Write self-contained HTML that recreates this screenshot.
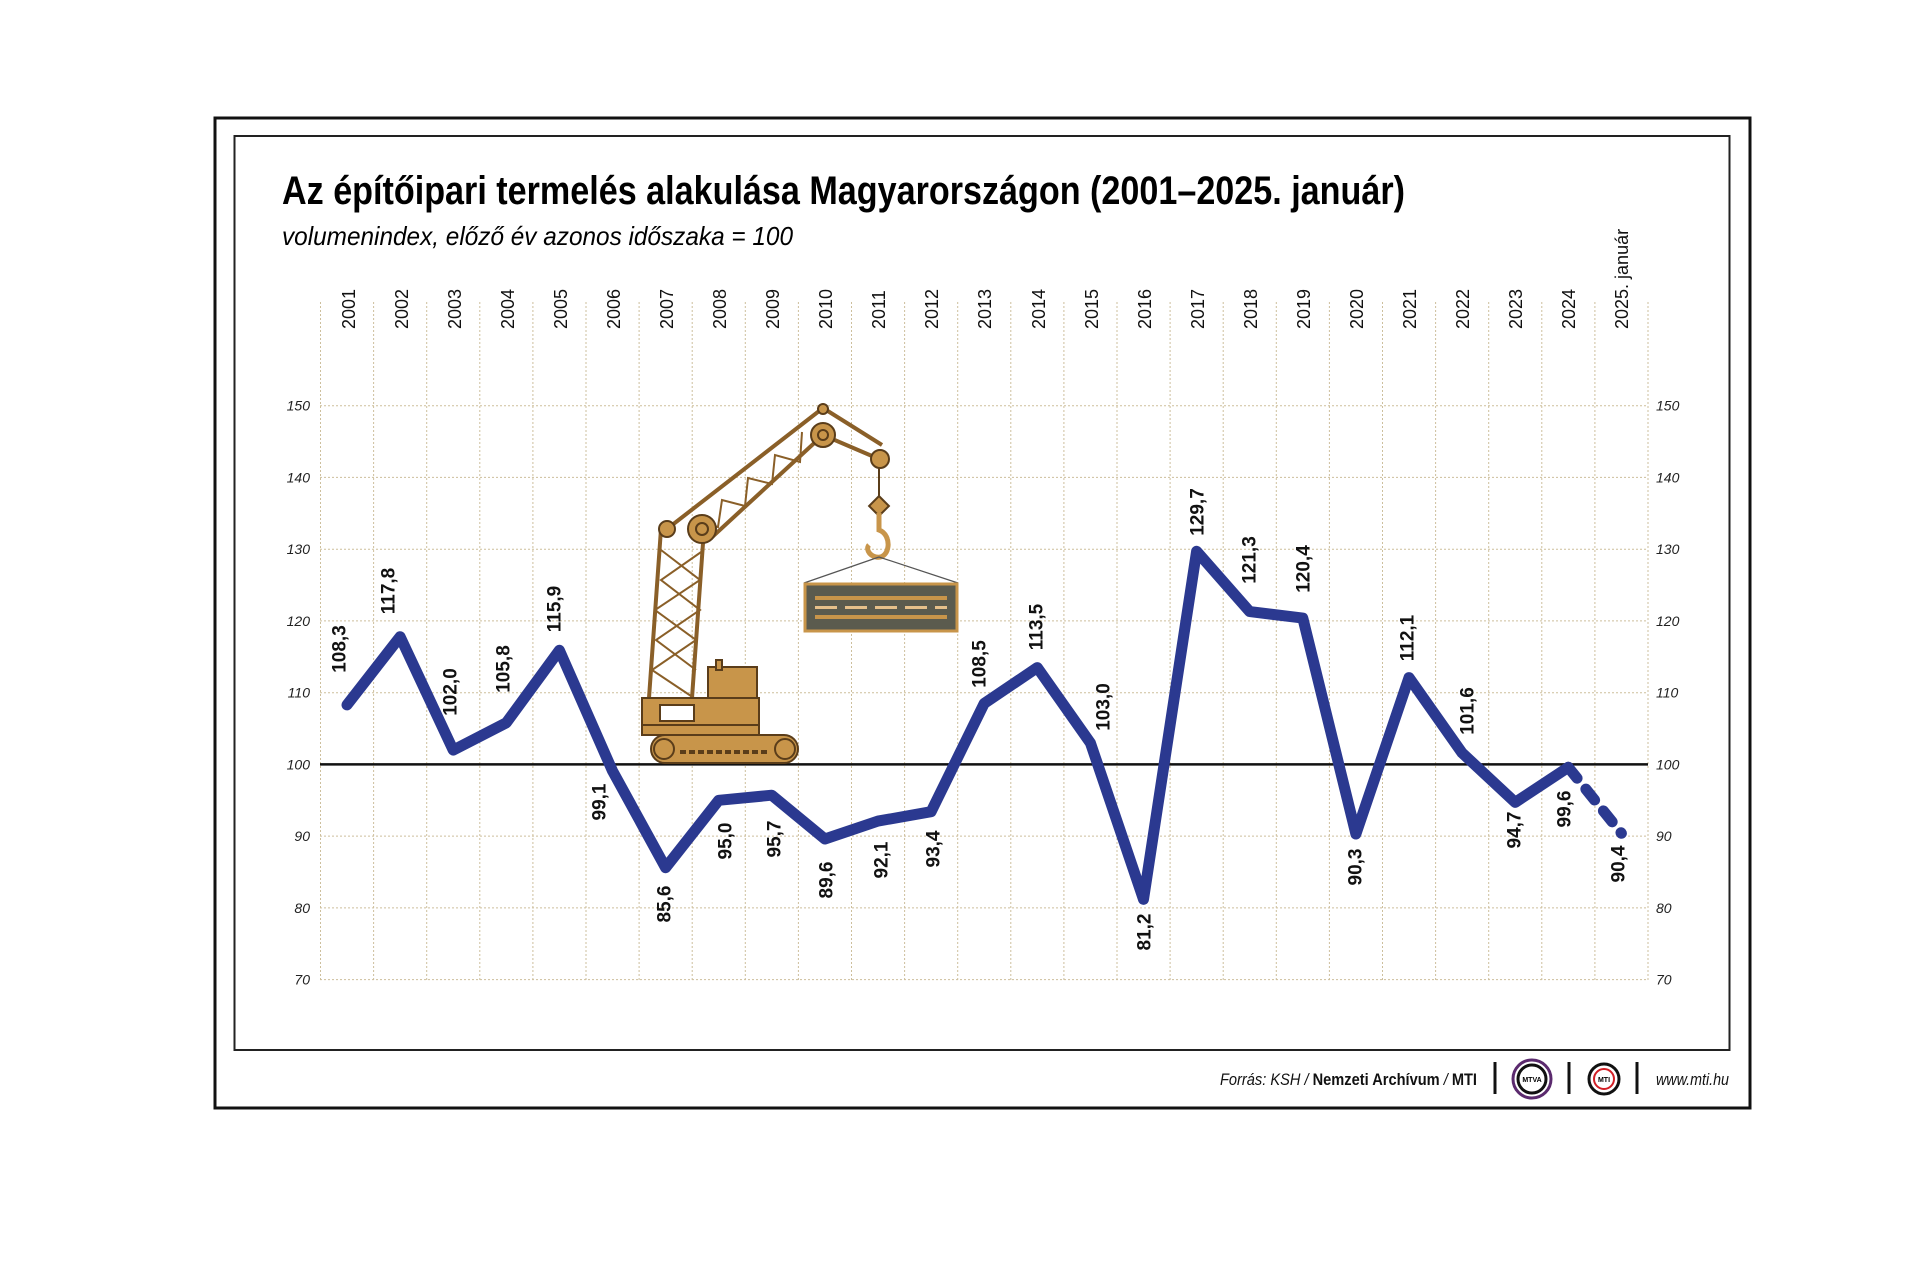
<!DOCTYPE html>
<html><head><meta charset="utf-8"><style>
html,body{margin:0;padding:0;background:#fff;}
svg{display:block;}
text{font-family:"Liberation Sans",sans-serif;}
</style></head><body>
<svg width="1920" height="1280" viewBox="0 0 1920 1280" xmlns="http://www.w3.org/2000/svg">
<rect x="0" y="0" width="1920" height="1280" fill="#fff"/>
<rect x="215" y="118" width="1535" height="990" fill="none" stroke="#111" stroke-width="3"/>
<rect x="234.5" y="136" width="1495" height="914" fill="none" stroke="#222" stroke-width="2"/>

<text x="282" y="204" font-size="40" font-weight="bold" textLength="1123" lengthAdjust="spacingAndGlyphs">Az építőipari termelés alakulása Magyarországon (2001–2025. január)</text>
<text x="282" y="245" font-size="26" font-style="italic" textLength="511" lengthAdjust="spacingAndGlyphs">volumenindex, előző év azonos időszaka = 100</text>

<g stroke="#cdbf9c" stroke-width="1" stroke-dasharray="2,2" fill="none">
<path d="M320.5 302V980M373.6 302V980M426.7 302V980M479.8 302V980M532.9 302V980M586 302V980M639.1 302V980M692.2 302V980M745.3 302V980M798.4 302V980M851.5 302V980M904.6 302V980M957.7 302V980M1010.8 302V980M1063.9 302V980M1117 302V980M1170.1 302V980M1223.2 302V980M1276.3 302V980M1329.4 302V980M1382.5 302V980M1435.6 302V980M1488.7 302V980M1541.8 302V980M1594.9 302V980M1648 302V980"/>
<path d="M320 405.7H1648M320 477.4H1648M320 549.2H1648M320 620.9H1648M320 692.7H1648M320 836.1H1648M320 907.9H1648M320 979.6H1648"/>
</g>
<line x1="320" y1="764.4" x2="1648" y2="764.4" stroke="#111" stroke-width="2.5"/>

<g font-size="14" font-style="italic" fill="#222" text-anchor="end">
<text x="310" y="410.7">150</text><text x="310" y="482.4">140</text><text x="310" y="554.2">130</text><text x="310" y="625.9">120</text><text x="310" y="697.7">110</text><text x="310" y="769.4">100</text><text x="310" y="841.1">90</text><text x="310" y="912.9">80</text><text x="310" y="984.6">70</text>
</g>
<g font-size="14" font-style="italic" fill="#222" text-anchor="start">
<text x="1656" y="410.7">150</text><text x="1656" y="482.4">140</text><text x="1656" y="554.2">130</text><text x="1656" y="625.9">120</text><text x="1656" y="697.7">110</text><text x="1656" y="769.4">100</text><text x="1656" y="841.1">90</text><text x="1656" y="912.9">80</text><text x="1656" y="984.6">70</text>
</g>

<g font-size="18" fill="#111" dominant-baseline="central">
<text transform="translate(349,329) rotate(-90)">2001</text>
<text transform="translate(402,329) rotate(-90)">2002</text>
<text transform="translate(455,329) rotate(-90)">2003</text>
<text transform="translate(508,329) rotate(-90)">2004</text>
<text transform="translate(561,329) rotate(-90)">2005</text>
<text transform="translate(614,329) rotate(-90)">2006</text>
<text transform="translate(667,329) rotate(-90)">2007</text>
<text transform="translate(720,329) rotate(-90)">2008</text>
<text transform="translate(773,329) rotate(-90)">2009</text>
<text transform="translate(826,329) rotate(-90)">2010</text>
<text transform="translate(879,329) rotate(-90)">2011</text>
<text transform="translate(932,329) rotate(-90)">2012</text>
<text transform="translate(985,329) rotate(-90)">2013</text>
<text transform="translate(1039,329) rotate(-90)">2014</text>
<text transform="translate(1092,329) rotate(-90)">2015</text>
<text transform="translate(1145,329) rotate(-90)">2016</text>
<text transform="translate(1198,329) rotate(-90)">2017</text>
<text transform="translate(1251,329) rotate(-90)">2018</text>
<text transform="translate(1304,329) rotate(-90)">2019</text>
<text transform="translate(1357,329) rotate(-90)">2020</text>
<text transform="translate(1410,329) rotate(-90)">2021</text>
<text transform="translate(1463,329) rotate(-90)">2022</text>
<text transform="translate(1516,329) rotate(-90)">2023</text>
<text transform="translate(1569,329) rotate(-90)">2024</text>
<text transform="translate(1622,329) rotate(-90)">2025. január</text>
</g>

<!-- crane -->
<g stroke="#5a3d1a" stroke-width="2" fill="#c8954a">
<path d="M661 529L649 698M704 529L692 698" fill="none" stroke-width="4" stroke="#8a5f28"/>
<path d="M661 550L700 580L655 610L696 640L652 670L694 698M704 550L661 580L700 610L656 640L696 670" fill="none" stroke="#8a5f28" stroke-width="2"/>
<path d="M667 529L823 408M710 539L823 435" fill="none" stroke="#8a5f28" stroke-width="4"/>
<path d="M690 521L718 527L722 500L745 506L748 478L772 484L775 455L800 462L802 432" fill="none" stroke="#8a5f28" stroke-width="2"/>
<path d="M823 435L879 459M823 408L882 445" fill="none" stroke="#8a5f28" stroke-width="4"/>
<path d="M879 458V500" fill="none" stroke="#5a3d1a"/>
<rect x="872" y="499" width="14" height="14" transform="rotate(45 879 506)"/>
<path d="M879 513V530C893 535 890 560 876 557C868 555 866 548 869 545" fill="none" stroke="#c8954a" stroke-width="5"/>
<circle cx="823" cy="409" r="5"/>
<circle cx="667" cy="529" r="8"/>
<circle cx="702" cy="529" r="14"/><circle cx="702" cy="529" r="6" fill="none"/>
<circle cx="823" cy="435" r="12"/><circle cx="823" cy="435" r="5" fill="none"/>
<circle cx="880" cy="459" r="9"/>
<rect x="708" y="667" width="49" height="32"/>
<rect x="716" y="660" width="6" height="10"/>
<rect x="642" y="698" width="117" height="33"/>
<rect x="660" y="705" width="34" height="16" fill="#fff"/>
<rect x="642" y="725" width="117" height="10"/>
<rect x="651" y="735" width="147" height="28" rx="14"/>
<circle cx="664" cy="749" r="10" fill="#c8954a"/><circle cx="785" cy="749" r="10"/>
<path d="M680 752H770" stroke-dasharray="6,3" stroke-width="4" fill="none"/>
</g>
<path d="M879 557L804 583M879 557L958 583" stroke="#555" stroke-width="1.2" fill="none"/>
<rect x="805" y="584" width="152" height="47" fill="#5b5b4e" stroke="#c8954a" stroke-width="3"/>
<path d="M815 598H947M815 617H947" stroke="#c8954a" stroke-width="4" fill="none"/>
<path d="M815 607.5H947" stroke="#e6c08a" stroke-width="3" stroke-dasharray="22,8" fill="none"/>

<!-- series -->
<polyline fill="none" stroke="#2b3990" stroke-width="11" stroke-linejoin="round" stroke-linecap="round" points="347,704.9 400.1,636.7 453.2,750.1 506.3,722.8 559.4,650.3 612.5,770.9 665.6,867.7 718.7,800.3 771.8,795.2 824.9,839 878,821.1 931.1,811.7 984.2,703.4 1037.3,667.6 1090.4,742.9 1143.5,899.3 1196.6,551.3 1249.7,611.6 1302.8,618.1 1355.9,834 1409,677.6 1462.1,752.9 1515.2,802.4 1568.3,767.3"/>
<line x1="1568.3" y1="767.3" x2="1621.4" y2="833.3" stroke="#2b3990" stroke-width="11" stroke-linecap="round" stroke-dasharray="14,14"/>

<g font-size="19" font-weight="bold" fill="#111" text-anchor="middle" dominant-baseline="central">
<text transform="translate(340,649) rotate(-90)">108,3</text>
<text transform="translate(389,591) rotate(-90)">117,8</text>
<text transform="translate(451,692) rotate(-90)">102,0</text>
<text transform="translate(504,669) rotate(-90)">105,8</text>
<text transform="translate(555,609) rotate(-90)">115,9</text>
<text transform="translate(600,802) rotate(-90)">99,1</text>
<text transform="translate(665,904) rotate(-90)">85,6</text>
<text transform="translate(726,841) rotate(-90)">95,0</text>
<text transform="translate(775,839) rotate(-90)">95,7</text>
<text transform="translate(827,880) rotate(-90)">89,6</text>
<text transform="translate(882,860) rotate(-90)">92,1</text>
<text transform="translate(934,849) rotate(-90)">93,4</text>
<text transform="translate(980,664) rotate(-90)">108,5</text>
<text transform="translate(1037,627) rotate(-90)">113,5</text>
<text transform="translate(1104,707) rotate(-90)">103,0</text>
<text transform="translate(1145,932) rotate(-90)">81,2</text>
<text transform="translate(1198,512) rotate(-90)">129,7</text>
<text transform="translate(1250,560) rotate(-90)">121,3</text>
<text transform="translate(1304,569) rotate(-90)">120,4</text>
<text transform="translate(1356,867) rotate(-90)">90,3</text>
<text transform="translate(1408,638) rotate(-90)">112,1</text>
<text transform="translate(1468,711) rotate(-90)">101,6</text>
<text transform="translate(1515,830) rotate(-90)">94,7</text>
<text transform="translate(1565,809) rotate(-90)">99,6</text>
<text transform="translate(1619,864) rotate(-90)">90,4</text>
</g>

<!-- footer -->
<text x="1220" y="1085" font-size="17" fill="#111" textLength="257" lengthAdjust="spacingAndGlyphs"><tspan font-style="italic">Forrás: KSH / </tspan><tspan font-weight="bold">Nemzeti Archívum</tspan><tspan font-style="italic"> / </tspan><tspan font-weight="bold">MTI</tspan></text>
<line x1="1495" y1="1062" x2="1495" y2="1094" stroke="#111" stroke-width="3"/>
<circle cx="1532" cy="1079" r="19" fill="none" stroke="#5b2a6e" stroke-width="3"/>
<circle cx="1532" cy="1079" r="14" fill="none" stroke="#111" stroke-width="3"/>
<text x="1532" y="1082" font-size="7" font-weight="bold" text-anchor="middle">MTVA</text>
<line x1="1569" y1="1062" x2="1569" y2="1094" stroke="#111" stroke-width="3"/>
<circle cx="1604" cy="1079" r="15" fill="none" stroke="#111" stroke-width="3"/>
<circle cx="1604" cy="1079" r="10" fill="none" stroke="#d21f26" stroke-width="2"/>
<text x="1604" y="1082" font-size="7" font-weight="bold" text-anchor="middle">MTI</text>
<line x1="1637" y1="1062" x2="1637" y2="1094" stroke="#111" stroke-width="3"/>
<text x="1656" y="1085" font-size="17" font-style="italic" fill="#111" textLength="73" lengthAdjust="spacingAndGlyphs">www.mti.hu</text>
</svg>
</body></html>
